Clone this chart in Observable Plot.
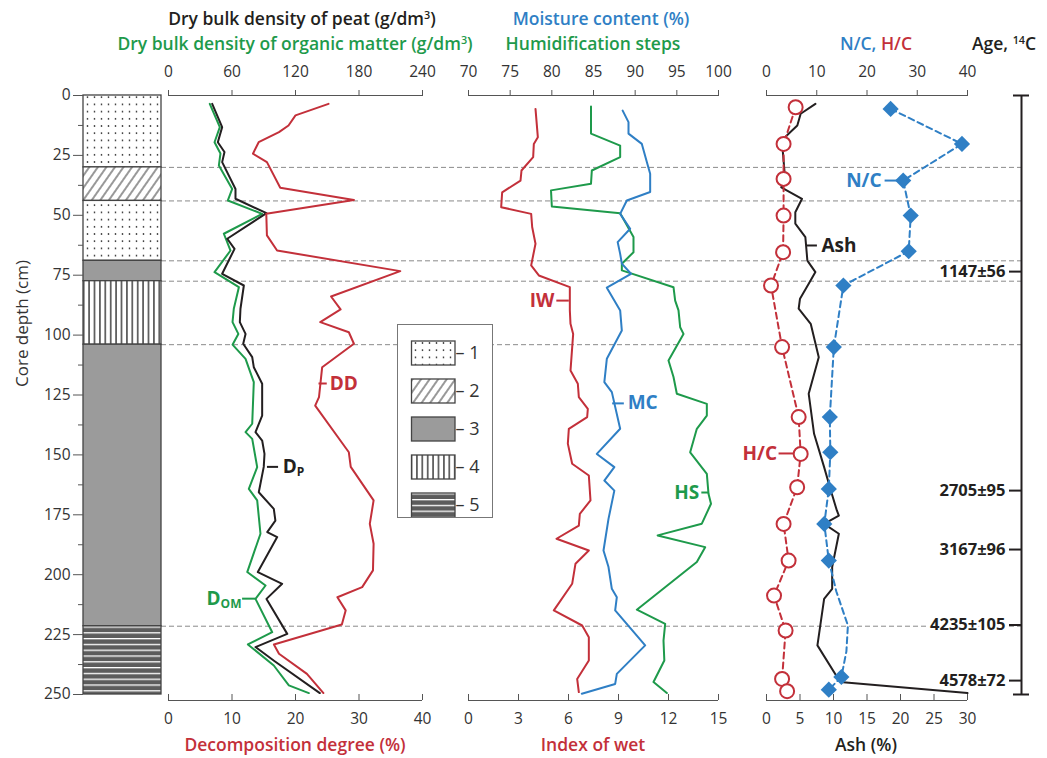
<!DOCTYPE html>
<html><head><meta charset="utf-8">
<script src="https://cdn.jsdelivr.net/npm/d3@7"></script>
<script src="https://cdn.jsdelivr.net/npm/@observablehq/plot@0.6"></script>
<style>
body{margin:0;background:#fff;font-family:"Open Sans",sans-serif;}
#chart{position:relative;width:1047px;height:758px;overflow:hidden;background:#fff;}
#chart svg.layer{position:absolute;left:0;top:0;background:transparent;overflow:visible;}
.hdr{position:absolute;text-align:center;font-weight:600;font-size:17.5px;white-space:nowrap;line-height:1;}
.hdr sup{font-size:0.62em;vertical-align:0.6em;line-height:0;}
</style></head><body>
<div id="chart">
<svg width="0" height="0" style="position:absolute">
<defs>
<pattern id="p1" width="7" height="7.2" patternUnits="userSpaceOnUse"><rect width="7" height="7.2" fill="#fff"/><circle cx="3.5" cy="3.6" r="0.85" fill="#333"/></pattern>
<pattern id="p2" width="7" height="7" patternUnits="userSpaceOnUse" patternTransform="rotate(35)"><rect width="7" height="7" fill="#fff"/><line x1="1" y1="0" x2="1" y2="7" stroke="#333" stroke-width="1"/></pattern>
<pattern id="p4" width="5.4" height="6" patternUnits="userSpaceOnUse"><rect width="5.4" height="6" fill="#fff"/><line x1="2.7" y1="0" x2="2.7" y2="6" stroke="#222" stroke-width="1.3"/></pattern>
<pattern id="p5" width="10" height="5.8" patternUnits="userSpaceOnUse"><rect width="10" height="5.8" fill="#fff"/><rect y="1.3" width="10" height="4.5" fill="#5c5c5c"/></pattern>
</defs></svg>
<div class="hdr" style="left:52px;top:10px;width:500px;color:#231f20">Dry bulk density of peat (g/dm<sup>3</sup>)</div>
<div class="hdr" style="left:45px;top:35px;width:500px;color:#1e9a4b">Dry bulk density of organic matter (g/dm<sup>3</sup>)</div>
<div class="hdr" style="left:401px;top:10px;width:400px;color:#2f7fc5">Moisture content (%)</div>
<div class="hdr" style="left:393px;top:35px;width:400px;color:#1e9a4b">Humidification steps</div>
<div class="hdr" style="left:776px;top:35px;width:200px"><span style="color:#2f7fc5">N/C,</span> <span style="color:#c3303a">H/C</span></div>
<div class="hdr" style="left:972px;top:35px;color:#231f20;text-align:left">Age, <sup>14</sup>C</div>
<div class="hdr" style="left:95px;top:736px;width:400px;color:#c3303a">Decomposition degree (%)</div>
<div class="hdr" style="left:393px;top:736px;width:400px;color:#c3303a">Index of wet</div>
<div class="hdr" style="left:766px;top:736px;width:200px;color:#231f20">Ash (%)</div>
</div>
<script>
// ---------------- data ----------------
const depthTicks = [0,25,50,75,100,125,150,175,200,225,250];
const depthMinor = [12.5,37.5,62.5,87.5,112.5,137.5,162.5,187.5,212.5,237.5];
const boundaries = [30,44,69,77.5,104,221.5];
const lithTop    = [0,30,44,69,77.5,104,221.5];
const lithBottom = [30,44,69,77.5,104,221.5,250];
const lithType   = [1,2,1,3,4,3,5];
const legendCodes = ["1","2","3","4","5"];

// [depth cm, value]
const DD = [[3.5,25.2],[8.3,20.0],[12.5,18.9],[15.3,17.4],[19.5,14.2],[24.3,13.3],[27.8,15.5],[38.5,17.6],[43.6,29.2],[49.4,15.4],[58.4,15.5],[64.7,17.1],[73.3,36.5],[83.9,25.6],[89.3,27.1],[94.6,23.9],[98.8,28.4],[103.6,29.2],[113.4,24.2],[125.9,23.7],[129.4,23.1],[148.9,28.4],[155,28.7],[169,32.3],[178.8,31.7],[187.1,32.3],[198.2,32.2],[205.2,30.5],[209.4,26.6],[214.9,27.9],[220.8,27.3],[229.1,16.6],[233,17.4],[241.4,21.8],[249.4,24.4]];
const DP = [[3.5,41.3],[13.2,50.7],[19.5,46.6],[23.6,52.9],[27.8,50.7],[39,63.3],[43.1,63.3],[49.1,92.6],[59.8,55.5],[64,62.4],[74.4,50.7],[79.3,71.2],[89,68],[94.6,67.4],[99.5,72.8],[103.6,70.6],[109.2,79.1],[113.4,80.6],[120.3,88.5],[133.6,88.5],[140.5,82.2],[144,88.5],[149.6,90.7],[155,90],[165.6,85.3],[172.5,99.5],[177.4,101],[182.2,93.3],[184.3,102.7],[198.9,84.4],[203.8,107.4],[210.1,92.6],[224.7,112.2],[230.2,82.2],[236,100],[249.4,143]];
const DOM = [[3.5,39],[13.2,48.5],[19.5,43.5],[24.2,49.1],[29.2,47.6],[39,60.2],[43.8,56.1],[49.4,88.5],[57.7,52.3],[64.7,58.6],[73.7,43.5],[80,66.5],[89,61.7],[94.6,60.5],[99.5,66],[104,60.5],[109.9,72.8],[119.6,80.6],[137,79.1],[140.5,72.8],[143.3,79.1],[155.1,83.8],[164.2,75.9],[169,83.8],[182.9,86.9],[198.9,74.4],[204.5,91.7],[210.1,82.2],[224,98],[229.1,75],[237.9,99.5],[246.2,113.7],[249.4,132.6]];
const IW = [[5.6,4.02],[17.4,4.16],[20.2,3.92],[25.7,3.88],[31.3,3.18],[35.5,3.12],[40.4,2.02],[46.6,1.96],[49.4,3.76],[54.9,3.82],[61.9,4.02],[70.9,3.76],[75.1,4.22],[80,6.08],[89.7,6.08],[95.3,6.12],[99.5,6.28],[114.8,6.12],[120.3,6.56],[125.9,6.62],[130.8,7.16],[134.2,7.12],[139.1,6.02],[145.3,5.96],[153.7,6.22],[158.6,7.22],[169,7.32],[174.6,6.68],[179.5,6.62],[185,5.28],[189.9,7.22],[195.4,6.42],[203.8,6.22],[214.9,5.12],[221.2,6.82],[226.1,7.22],[235.8,7.22],[243.5,6.52],[249,6.62]];
const MC = [[6.3,88.5],[11.1,89.2],[15.9,89.2],[20.2,90.8],[27.8,91.4],[32.7,91.8],[40.3,91.8],[43.8,89.0],[49.4,88.2],[55.6,89.4],[61.2,87.9],[66.1,88.2],[70.2,88.4],[74.4,89.5],[80.2,86.6],[89.7,88.2],[98.1,88.4],[109.9,86.6],[119.6,86.3],[123.8,87.2],[139.1,88.2],[149.6,85.4],[155.1,87.5],[160.7,86.3],[164.9,87.5],[176.7,86.8],[189.9,86.2],[196.8,86.8],[205.9,87.2],[209.4,87.8],[214.9,87.6],[229.5,91.2],[241.4,87.8],[245.6,87.6],[249.7,83.6]];
const HS = [[4.6,84.7],[15.9,84.7],[20.9,88.2],[25.7,88.2],[31.3,84.8],[36.8,84.7],[39.6,79.9],[46.3,80.0],[49.1,88.2],[59.1,89.8],[65.4,89.8],[70.2,88.4],[73,88.4],[80,94.6],[85.6,94.8],[89.7,95.2],[96.7,95.4],[99.5,95.8],[110.6,94.0],[117.5,94.6],[124.5,95.0],[128.7,98.6],[133.6,98.6],[139.1,97.4],[148.9,96.6],[157.9,98.6],[166.2,98.8],[170.4,99.1],[178.7,98.0],[183.6,92.7],[188.5,98.4],[194.7,97.4],[214.6,90.2],[220.5,93.6],[227.5,93.4],[235.8,93.5],[244.8,92.2],[249.4,93.8]];
const ASH = [[3.5,7.3],[7.6,5.1],[12.5,4.6],[16,3.3],[18.8,2.3],[35.5,2.8],[38.3,2.2],[43.1,5.3],[48.7,4.3],[53.5,4.3],[59.1,5.8],[68.9,6.1],[73.7,7.3],[78.6,6.3],[84.8,5.0],[89,4.8],[95.3,6.6],[109.2,7.8],[124.5,6.3],[141.2,7.1],[155.1,8.6],[164.9,9.6],[173.2,10.5],[175.3,10.8],[178.8,8.6],[182.9,10.8],[196.8,9.8],[205.9,9.8],[210.1,8.6],[229.5,7.6],[244.8,11.0],[249.4,30.0]];
const HC = [[4.9,5.8],[20.2,3.4],[34.8,3.4],[50.1,3.4],[65.4,3.3],[79.3,0.9],[105,3.1],[134.2,6.4],[149.6,6.8],[163.5,6.1],[178.8,3.4],[194.1,4.4],[208.7,1.5],[223.3,3.8],[243.5,3.1],[248.6,4.1]];
const NC = [[5.6,24.7],[20.2,38.9],[35.5,27.2],[50.1,28.7],[65,28.3],[79.3,15.3],[105,13.4],[134.2,12.6],[148.9,12.7],[164.2,12.4],[178.8,11.5],[194.1,12.4],[242.7,14.9],[248,12.4]];
const NCpath = [[5.6,24.7],[20.2,38.9],[35.5,27.2],[50.1,28.7],[65,28.3],[79.3,15.3],[105,13.4],[134.2,12.6],[148.9,12.7],[164.2,12.4],[178.8,11.5],[194.1,12.4],[207,13.9],[221.2,16.2],[232,15.9],[242.7,14.9],[248,12.4]];

const ageLabels = ["1147±56","2705±95","3167±96","4235±105","4578±72"];
const ageDepths = [73.5,164.9,189.5,221,244.2];

// ---------------- styling ----------------
const FONT = '"Open Sans", sans-serif';
const RED = "#c3303a", GREEN = "#1e9a4b", BLUE = "#2f7fc5", BLACK = "#231f20", AX = "#555";
const patternFill = {1:"url(#p1)",2:"url(#p2)",3:"#9b9b9b",4:"url(#p4)",5:"url(#p5)"};
const W = 1047, H = 758, MT = 95, MB = 64;
const chart = document.getElementById("chart");
const X = d => d[1], Y = d => d[0];

function layer(left, right, opts) {
  const svg = Plot.plot({
    width: W, height: H, marginTop: MT, marginBottom: MB,
    marginLeft: left, marginRight: W - right,
    y: {domain: [0, 250], reverse: true, axis: null},
    style: {fontFamily: FONT, fontSize: "15px", color: "#333", background: "transparent"},
    ...opts
  });
  svg.classList.add("layer");
  chart.appendChild(svg);
  return svg;
}
function topAxis(ticks) {
  return [Plot.axisX(ticks, {anchor: "top", tickSize: 6, tickPadding: 13, fontSize: 15.5, label: null, stroke: AX}),
          Plot.ruleY([0], {stroke: AX, strokeWidth: 1.2})];
}
function bottomAxis(ticks) {
  return [Plot.axisX(ticks, {anchor: "bottom", tickSize: 6, tickPadding: 12, fontSize: 15.5, label: null, stroke: AX}),
          Plot.ruleY([250], {dy: 6, stroke: AX, strokeWidth: 1.2})];
}
function curveLabel(o) {
  return [Plot.ruleY([o], {y: "y", x1: "x1", x2: "x2", stroke: o.color, strokeWidth: 2}),
          Plot.text([o], {x: "tx", y: "y", text: "text", textAnchor: o.anchor, fill: o.color, fontSize: 19, fontWeight: "bold"})];
}

// background dashed boundary lines
layer(161, 1021, {marks: [Plot.ruleY(boundaries, {stroke: "#8a8a8a", strokeDasharray: "5,3", strokeWidth: 1})]});

// lithology column
const layers = lithTop.map((t, i) => ({top: t, bottom: lithBottom[i], type: lithType[i]}));
layer(83, 161, {
  color: {type: "identity"},
  y: {domain: [0, 250], reverse: true},
  marks: [
    Plot.barY(layers, {y1: "top", y2: "bottom", fill: d => patternFill[d.type], stroke: "#444", strokeWidth: 1.3}),
    Plot.axisY(depthTicks, {anchor: "left", tickSize: 10, tickPadding: 3, fontSize: 15.5, stroke: AX, label: null}),
    Plot.axisY(depthMinor, {anchor: "left", tickSize: 5, tickFormat: () => "", label: null, stroke: AX}),
    Plot.text(["Core depth (cm)"], {frameAnchor: "left", dx: -61, dy: -8, rotate: -90, fontSize: 17, fill: "#333"})
  ]
});

// panel 1: densities (top axis)
layer(168, 422, {
  x: {domain: [0, 240]},
  marks: [
    ...topAxis([0, 60, 120, 180, 240]),
    Plot.line(DOM, {x: X, y: Y, stroke: GREEN, strokeWidth: 2}),
    Plot.line(DP, {x: X, y: Y, stroke: BLACK, strokeWidth: 2}),
    Plot.ruleY([155], {x1: 93.5, x2: 104, stroke: BLACK, strokeWidth: 2}),
    Plot.text(["D"], {x: [108], y: [155], textAnchor: "start", fill: BLACK, fontSize: 19, fontWeight: "bold"}),
    Plot.text(["P"], {x: [108], y: [155], dx: 14, dy: 5, textAnchor: "start", fill: BLACK, fontSize: 12, fontWeight: "bold"}),
    Plot.ruleY([210], {x1: 70, x2: 82.2, stroke: GREEN, strokeWidth: 2}),
    Plot.text(["D"], {x: [36], y: [210], textAnchor: "start", fill: GREEN, fontSize: 19, fontWeight: "bold"}),
    Plot.text(["OM"], {x: [36], y: [210], dx: 14, dy: 5, textAnchor: "start", fill: GREEN, fontSize: 12, fontWeight: "bold"})
  ]
});
// panel 1: decomposition degree (bottom axis)
layer(168, 422, {
  x: {domain: [0, 40]},
  marks: [
    ...bottomAxis([0, 10, 20, 30, 40]),
    Plot.line(DD, {x: X, y: Y, stroke: RED, strokeWidth: 2}),
    ...curveLabel({y: 120.2, x1: 23.7, x2: 25.0, tx: 25.4, text: "DD", anchor: "start", color: RED})
  ]
});

// panel 2: moisture, humidification (top axis)
layer(468, 718, {
  x: {domain: [70, 100]},
  marks: [
    ...topAxis([70, 75, 80, 85, 90, 95, 100]),
    Plot.line(HS, {x: X, y: Y, stroke: GREEN, strokeWidth: 2}),
    Plot.line(MC, {x: X, y: Y, stroke: BLUE, strokeWidth: 2}),
    ...curveLabel({y: 128.5, x1: 87.3, x2: 88.7, tx: 89.1, text: "MC", anchor: "start", color: BLUE}),
    ...curveLabel({y: 165.7, x1: 98.0, x2: 98.9, tx: 97.7, text: "HS", anchor: "end", color: GREEN})
  ]
});
// panel 2: index of wet (bottom axis)
layer(468, 718, {
  x: {domain: [0, 15]},
  marks: [
    ...bottomAxis([0, 3, 6, 9, 12, 15]),
    Plot.line(IW, {x: X, y: Y, stroke: RED, strokeWidth: 2}),
    ...curveLabel({y: 85.6, x1: 5.3, x2: 6.05, tx: 5.15, text: "IW", anchor: "end", color: RED})
  ]
});

// panel 3: ash (bottom axis)
layer(766, 967, {
  x: {domain: [0, 30]},
  marks: [
    ...bottomAxis([0, 5, 10, 15, 20, 25, 30]),
    Plot.line(ASH, {x: X, y: Y, stroke: BLACK, strokeWidth: 2}),
    ...curveLabel({y: 62.6, x1: 6.0, x2: 7.6, tx: 8.2, text: "Ash", anchor: "start", color: BLACK})
  ]
});
// panel 3: N/C, H/C (top axis)
layer(766, 967, {
  x: {domain: [0, 40]},
  marks: [
    ...topAxis([0, 10, 20, 30, 40]),
    Plot.line(NCpath, {x: X, y: Y, stroke: BLUE, strokeWidth: 2, strokeDasharray: "6,4"}),
    Plot.line(HC, {x: X, y: Y, stroke: RED, strokeWidth: 2, strokeDasharray: "6,4"}),
    Plot.dot(NC, {x: X, y: Y, symbol: "diamond2", r: 7.3, fill: BLUE, stroke: "none"}),
    Plot.dot(HC, {x: X, y: Y, r: 7, fill: "white", stroke: RED, strokeWidth: 2}),
    ...curveLabel({y: 35.5, x1: 23.6, x2: 26.2, tx: 22.9, text: "N/C", anchor: "end", color: BLUE}),
    ...curveLabel({y: 149.4, x1: 2.5, x2: 5.4, tx: 2.1, text: "H/C", anchor: "end", color: RED})
  ]
});

// age axis
const ages = ageDepths.map((d, i) => ({depth: d, label: ageLabels[i]}));
layer(1013, 1029, {
  x: {domain: [-1, 1], axis: null},
  marks: [
    Plot.ruleX([0], {stroke: BLACK, strokeWidth: 2}),
    Plot.ruleY([0, 250], {stroke: BLACK, strokeWidth: 2}),
    Plot.axisY(ageDepths, {anchor: "left", tickSize: 12, dx: 8, tickFormat: () => "", label: null, stroke: BLACK, strokeWidth: 2}),
    Plot.text(ages, {y: "depth", text: "label", frameAnchor: "left", textAnchor: "end", dx: -8,
      fill: BLACK, fontSize: 16.5, fontWeight: "bold", stroke: "white", strokeWidth: 5})
  ]
});

// legend
const legendItems = legendCodes.map((c, i) => ({code: c, type: i + 1}));
const leg = Plot.plot({
  width: 94, height: 192, marginTop: 0, marginBottom: 0, marginLeft: 13.5, marginRight: 37,
  color: {type: "identity"},
  y: {type: "band", domain: legendCodes, range: [7.7, 200.2], paddingInner: 0.38, paddingOuter: 0.19, axis: null},
  style: {fontFamily: FONT, fontSize: "18px", color: "#333", background: "white"},
  marks: [
    Plot.cell(legendItems, {y: "code", fill: d => patternFill[d.type], stroke: "#444", strokeWidth: 1.3}),
    Plot.text(legendItems, {y: "code", text: d => "– " + d.code, frameAnchor: "right", textAnchor: "start", dx: 0, fill: "#333", fontSize: 18})
  ]
});
leg.style.position = "absolute"; leg.style.left = "397px"; leg.style.top = "324px";
leg.style.border = "1.3px solid #777"; leg.style.boxSizing = "content-box"; leg.style.overflow = "hidden";
chart.appendChild(leg);
</script>
</body></html>
